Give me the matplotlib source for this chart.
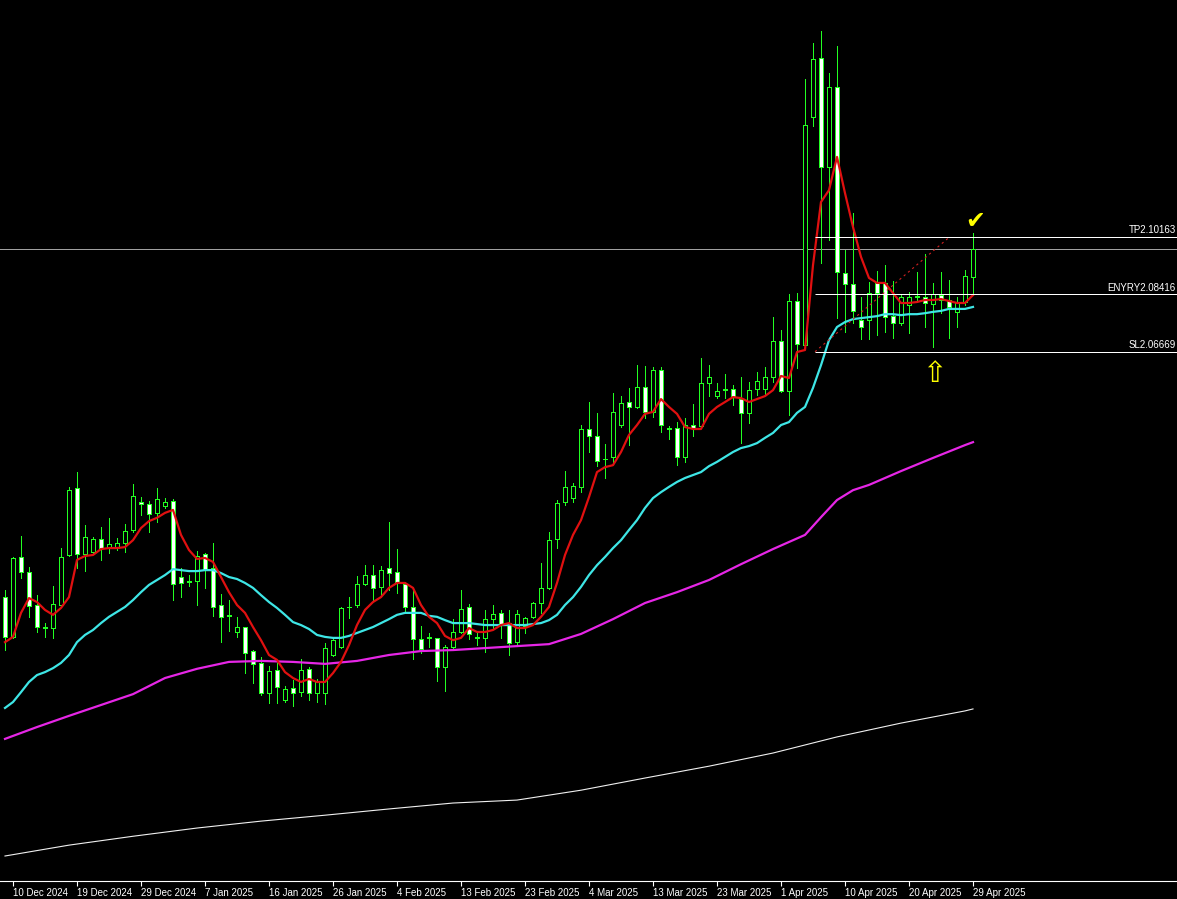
import matplotlib
matplotlib.use('Agg')
import matplotlib.pyplot as plt
from matplotlib.patches import Rectangle
import numpy as np

# daily candles, 9 Dec 2024 .. 29 Apr 2025
open_ = [1.9921, 1.9800, 2.0043, 1.9997, 1.9897, 1.9830, 1.9827, 1.9897, 2.0049, 2.0252,
         2.0052, 2.0058, 2.0098, 2.0073, 2.0070, 2.0085, 2.0125, 2.0210, 2.0204, 2.0177,
         2.0198, 2.0213, 1.9982, 1.9967, 1.9970, 2.0052, 2.0009, 1.9897, 1.9867, 1.9815,
         1.9830, 1.9757, 1.9721, 1.9629, 1.9699, 1.9608, 1.9644, 1.9632, 1.9703, 1.9629,
         1.9629, 1.9745, 1.9769, 1.9891, 1.9897, 1.9961, 1.9988, 1.9952, 2.0009, 1.9997,
         1.9961, 1.9891, 1.9793, 1.9797, 1.9797, 1.9708, 1.9769, 1.9815, 1.9891, 1.9797,
         1.9797, 1.9854, 1.9873, 1.9842, 1.9784, 1.9833, 1.9861, 1.9903, 1.9949, 2.0098,
         2.0210, 2.0222, 2.0256, 2.0432, 2.0411, 2.0341, 2.0347, 2.0444, 2.0514, 2.0499,
         2.0560, 2.0484, 2.0611, 2.0432, 2.0435, 2.0347, 2.0444, 2.0441, 2.0572, 2.0532,
         2.0553, 2.0553, 2.0523, 2.0481, 2.0553, 2.0553, 2.0590, 2.0699, 2.0547, 2.0821,
         2.0687, 2.1380, 2.1560, 2.1228, 2.1471, 2.0906, 2.0873, 2.0763, 2.0763, 2.0876,
         2.0876, 2.0775, 2.0754, 2.0809, 2.0833, 2.0833, 2.0812, 2.0839, 2.0824, 2.0788,
         2.0818, 2.0894]
high = [1.9942, 2.0043, 2.0107, 2.0013, 1.9927, 1.9842, 1.9955, 2.0070, 2.0256, 2.0301,
        2.0140, 2.0104, 2.0134, 2.0162, 2.0101, 2.0143, 2.0265, 2.0225, 2.0213, 2.0252,
        2.0222, 2.0219, 2.0009, 1.9988, 2.0061, 2.0055, 2.0085, 1.9930, 1.9912, 1.9861,
        1.9830, 1.9760, 1.9739, 1.9712, 1.9721, 1.9651, 1.9669, 1.9733, 1.9709, 1.9672,
        1.9781, 1.9800, 1.9891, 1.9921, 1.9985, 2.0018, 2.0018, 2.0015, 2.0149, 2.0067,
        1.9967, 1.9949, 1.9833, 1.9812, 1.9797, 1.9775, 1.9854, 1.9942, 1.9900, 1.9815,
        1.9882, 1.9897, 1.9882, 1.9882, 1.9882, 1.9861, 1.9906, 2.0024, 2.0119, 2.0216,
        2.0304, 2.0268, 2.0444, 2.0514, 2.0481, 2.0386, 2.0541, 2.0532, 2.0556, 2.0626,
        2.0623, 2.0620, 2.0620, 2.0441, 2.0453, 2.0465, 2.0508, 2.0648, 2.0626, 2.0572,
        2.0599, 2.0565, 2.0590, 2.0575, 2.0605, 2.0620, 2.0772, 2.0733, 2.0842, 2.0845,
        2.1496, 2.1605, 2.1642, 2.1514, 2.1596, 2.0976, 2.1088, 2.0833, 2.0879, 2.0912,
        2.0930, 2.0882, 2.0842, 2.0848, 2.0909, 2.0964, 2.0876, 2.0909, 2.0885, 2.0833,
        2.0915, 2.1028]
low = [1.9760, 1.9797, 1.9979, 1.9861, 1.9815, 1.9800, 1.9797, 1.9894, 2.0046, 2.0009,
       2.0000, 2.0055, 2.0034, 2.0055, 2.0064, 2.0058, 2.0119, 2.0171, 2.0119, 2.0149,
       2.0192, 1.9912, 1.9921, 1.9955, 1.9897, 1.9949, 1.9864, 1.9784, 1.9818, 1.9800,
       1.9690, 1.9660, 1.9623, 1.9599, 1.9599, 1.9602, 1.9590, 1.9620, 1.9608, 1.9602,
       1.9596, 1.9742, 1.9766, 1.9858, 1.9891, 1.9958, 1.9912, 1.9927, 1.9942, 1.9933,
       1.9873, 1.9733, 1.9751, 1.9769, 1.9666, 1.9635, 1.9760, 1.9812, 1.9794, 1.9775,
       1.9754, 1.9824, 1.9797, 1.9745, 1.9775, 1.9812, 1.9858, 1.9873, 1.9945, 2.0070,
       2.0201, 2.0210, 2.0240, 2.0362, 2.0319, 2.0283, 2.0332, 2.0438, 2.0383, 2.0496,
       2.0465, 2.0468, 2.0423, 2.0401, 2.0322, 2.0332, 2.0411, 2.0438, 2.0532, 2.0526,
       2.0526, 2.0505, 2.0389, 2.0450, 2.0535, 2.0538, 2.0575, 2.0544, 2.0474, 2.0617,
       2.0681, 2.1353, 2.0936, 2.1006, 2.0769, 2.0727, 2.0754, 2.0705, 2.0705, 2.0718,
       2.0727, 2.0709, 2.0748, 2.0724, 2.0818, 2.0742, 2.0681, 2.0785, 2.0709, 2.0742,
       2.0809, 2.0839]
close = [1.9800, 2.0040, 1.9997, 1.9894, 1.9830, 1.9827, 1.9900, 2.0043, 2.0246, 2.0052,
         2.0104, 2.0098, 2.0070, 2.0082, 2.0085, 2.0122, 2.0228, 2.0204, 2.0174, 2.0219,
         2.0210, 1.9961, 1.9964, 1.9970, 2.0046, 2.0003, 1.9891, 1.9861, 1.9864, 1.9830,
         1.9751, 1.9718, 1.9629, 1.9696, 1.9647, 1.9641, 1.9629, 1.9699, 1.9629, 1.9663,
         1.9766, 1.9790, 1.9888, 1.9890, 1.9961, 1.9988, 1.9949, 2.0003, 1.9994, 1.9967,
         1.9891, 1.9793, 1.9763, 1.9800, 1.9708, 1.9769, 1.9815, 1.9885, 1.9809, 1.9800,
         1.9854, 1.9870, 1.9839, 1.9781, 1.9870, 1.9858, 1.9903, 1.9949, 2.0094, 2.0207,
         2.0256, 2.0259, 2.0432, 2.0411, 2.0335, 2.0340, 2.0484, 2.0511, 2.0499, 2.0560,
         2.0484, 2.0611, 2.0444, 2.0435, 2.0347, 2.0444, 2.0435, 2.0572, 2.0590, 2.0547,
         2.0550, 2.0529, 2.0481, 2.0550, 2.0578, 2.0590, 2.0699, 2.0547, 2.0821, 2.0690,
         2.1356, 2.1557, 2.1228, 2.1471, 2.0909, 2.0873, 2.0791, 2.0742, 2.0845, 2.0845,
         2.0772, 2.0754, 2.0833, 2.0833, 2.0836, 2.0815, 2.0842, 2.0824, 2.0803, 2.0818,
         2.0897, 2.0979]

# moving averages
red_ma = [1.9784, 1.9800, 1.9873, 1.9918, 1.9906, 1.9882, 1.9867, 1.9888, 1.9921, 2.0034,
          2.0046, 2.0049, 2.0067, 2.0070, 2.0070, 2.0073, 2.0094, 2.0131, 2.0152, 2.0162,
          2.0177, 2.0186, 2.0110, 2.0064, 2.0037, 2.0040, 2.0028, 1.9982, 1.9936, 1.9897,
          1.9873, 1.9830, 1.9790, 1.9745, 1.9730, 1.9693, 1.9675, 1.9663, 1.9672, 1.9663,
          1.9663, 1.9690, 1.9724, 1.9775, 1.9836, 1.9882, 1.9906, 1.9921, 1.9949, 1.9964,
          1.9964, 1.9949, 1.9897, 1.9861, 1.9842, 1.9803, 1.9790, 1.9797, 1.9827, 1.9815,
          1.9815, 1.9821, 1.9836, 1.9842, 1.9827, 1.9827, 1.9836, 1.9861, 1.9891, 1.9964,
          2.0049, 2.0110, 2.0155, 2.0225, 2.0301, 2.0316, 2.0322, 2.0362, 2.0414, 2.0444,
          2.0478, 2.0484, 2.0523, 2.0499, 2.0478, 2.0438, 2.0432, 2.0432, 2.0478, 2.0499,
          2.0514, 2.0529, 2.0526, 2.0514, 2.0523, 2.0532, 2.0550, 2.0593, 2.0587, 2.0666,
          2.0672, 2.0930, 2.1122, 2.1158, 2.1259, 2.1149, 2.1046, 2.0955, 2.0891, 2.0876,
          2.0876, 2.0845, 2.0815, 2.0815, 2.0818, 2.0824, 2.0824, 2.0827, 2.0821, 2.0815,
          2.0815, 2.0839]
cyan_ma = [1.9584, 1.9602, 1.9632, 1.9663, 1.9684, 1.9693, 1.9705, 1.9721, 1.9745, 1.9784,
           1.9806, 1.9821, 1.9842, 1.9861, 1.9876, 1.9891, 1.9912, 1.9936, 1.9958, 1.9973,
           1.9988, 2.0006, 2.0003, 2.0000, 2.0000, 2.0003, 2.0003, 1.9994, 1.9982, 1.9976,
           1.9964, 1.9949, 1.9927, 1.9906, 1.9888, 1.9867, 1.9845, 1.9836, 1.9824, 1.9806,
           1.9800, 1.9797, 1.9797, 1.9803, 1.9812, 1.9821, 1.9830, 1.9842, 1.9854, 1.9867,
           1.9873, 1.9873, 1.9873, 1.9864, 1.9861, 1.9851, 1.9842, 1.9842, 1.9842, 1.9839,
           1.9836, 1.9836, 1.9836, 1.9836, 1.9836, 1.9836, 1.9839, 1.9842, 1.9851, 1.9867,
           1.9897, 1.9921, 1.9952, 1.9988, 2.0018, 2.0043, 2.0070, 2.0094, 2.0125, 2.0155,
           2.0192, 2.0222, 2.0240, 2.0256, 2.0271, 2.0283, 2.0292, 2.0301, 2.0319, 2.0332,
           2.0347, 2.0362, 2.0374, 2.0380, 2.0389, 2.0405, 2.0420, 2.0444, 2.0453, 2.0481,
           2.0499, 2.0557, 2.0626, 2.0702, 2.0742, 2.0757, 2.0766, 2.0769, 2.0772, 2.0775,
           2.0781, 2.0781, 2.0778, 2.0781, 2.0781, 2.0784, 2.0788, 2.0791, 2.0797, 2.0797,
           2.0797, 2.0803]
magenta_bars = [0, 4, 8, 12, 16, 20, 24, 28, 32, 36, 40, 44, 48, 52, 56, 60, 64, 68, 72, 76,
                80, 84, 88, 92, 96, 100, 102, 104, 106, 108, 112, 116, 120, 121]
magenta_ma = [1.9490, 1.9526, 1.9560, 1.9593, 1.9626, 1.9675, 1.9703, 1.9724, 1.9727, 1.9724,
              1.9718, 1.9727, 1.9745, 1.9757, 1.9760, 1.9766, 1.9772, 1.9778, 1.9809, 1.9854,
              1.9903, 1.9936, 1.9973, 2.0021, 2.0067, 2.0110, 2.0164, 2.0216, 2.0246, 2.0262,
              2.0304, 2.0344, 2.0383, 2.0392]
white_bars = [0, 8, 16, 24, 32, 40, 48, 56, 64, 72, 80, 88, 96, 104, 112, 120, 121]
white_ma = [1.9134, 1.9167, 1.9194, 1.9219, 1.9240, 1.9258, 1.9277, 1.9295, 1.9304, 1.9334,
            1.9371, 1.9407, 1.9447, 1.9496, 1.9538, 1.9575, 1.9581]

date_labels = ['10 Dec 2024', '19 Dec 2024', '29 Dec 2024', '7 Jan 2025', '16 Jan 2025',
               '26 Jan 2025', '4 Feb 2025', '13 Feb 2025', '23 Feb 2025', '4 Mar 2025',
               '13 Mar 2025', '23 Mar 2025', '1 Apr 2025', '10 Apr 2025', '20 Apr 2025',
               '29 Apr 2025']
label_bars = list(range(1, 122, 8))

levels = [2.10163, 2.08416, 2.06669]
level_names = ['TP2.10163', 'ENYRY2.08416', 'SL2.06669']
level_start = 101.25
trend_end = 118.1

green = '#22ff22'
font = 'Liberation Sans'
px = 0.72  # one pixel at 100 dpi

fig = plt.figure(figsize=(11.77, 8.99), dpi=100, facecolor='black')
ax = fig.add_axes([0, 18 / 899, 1, 881 / 899], facecolor='black')
xmax = 146.5

bars = np.arange(len(close))
ax.vlines(bars, low, high, color=green, lw=px, antialiased=False, zorder=2)
for i in bars:
    o, c = open_[i], close[i]
    face = 'black' if c >= o else 'white'
    ax.add_patch(Rectangle((i - 0.31, min(o, c)), 0.62, abs(c - o), facecolor=face,
                           edgecolor=green, lw=px, antialiased=False, zorder=3))

ax.axhline(close[-1], color='#a0a0a0', lw=px, zorder=1)

ax.plot(white_bars, white_ma, color='#f0f0f0', lw=0.8, zorder=4)
ax.plot(magenta_bars, magenta_ma, color='#e626e6', lw=1.6, zorder=4)
ax.plot(bars, cyan_ma, color='#3ee6e6', lw=1.6, zorder=4)
ax.plot(bars, red_ma, color='#e01010', lw=1.6, zorder=4)

ax.hlines(levels, level_start, xmax, color='white', lw=px, zorder=5)
ax.plot([level_start, trend_end], [levels[2], levels[0]], color='#d02020', lw=0.8,
        ls=(0, (2, 3)), zorder=4)
for price, name in zip(levels, level_names):
    ax.annotate(name, xy=(1, price), xycoords=('axes fraction', 'data'),
                xytext=(-1, 1.2), textcoords='offset points', ha='right', va='bottom',
                color='white', fontsize=7, family=font, zorder=6)

ax.text(121.3, 2.1063, '\u2714', color='#ffff00', fontsize=17, ha='center', va='center', zorder=6)
ax.text(116.1, 2.0599, '\u21e7', color='#ffff00', fontsize=21, ha='center', va='center', zorder=6)

ax.set_xlim(-0.625, xmax)
ax.set_ylim(1.9058, 2.1736)
ax.set_xticks(label_bars)
ax.set_xticklabels(date_labels, ha='left', fontsize=7, color='white', family=font)
ax.tick_params(axis='x', colors='white', length=3.5, width=0.8, pad=1.5, direction='out')
ax.set_yticks([])
for side in ['top', 'left', 'right']:
    ax.spines[side].set_visible(False)
ax.spines['bottom'].set_color('white')
ax.spines['bottom'].set_linewidth(0.8)

fig.savefig('out.png', dpi=100, facecolor='black')
